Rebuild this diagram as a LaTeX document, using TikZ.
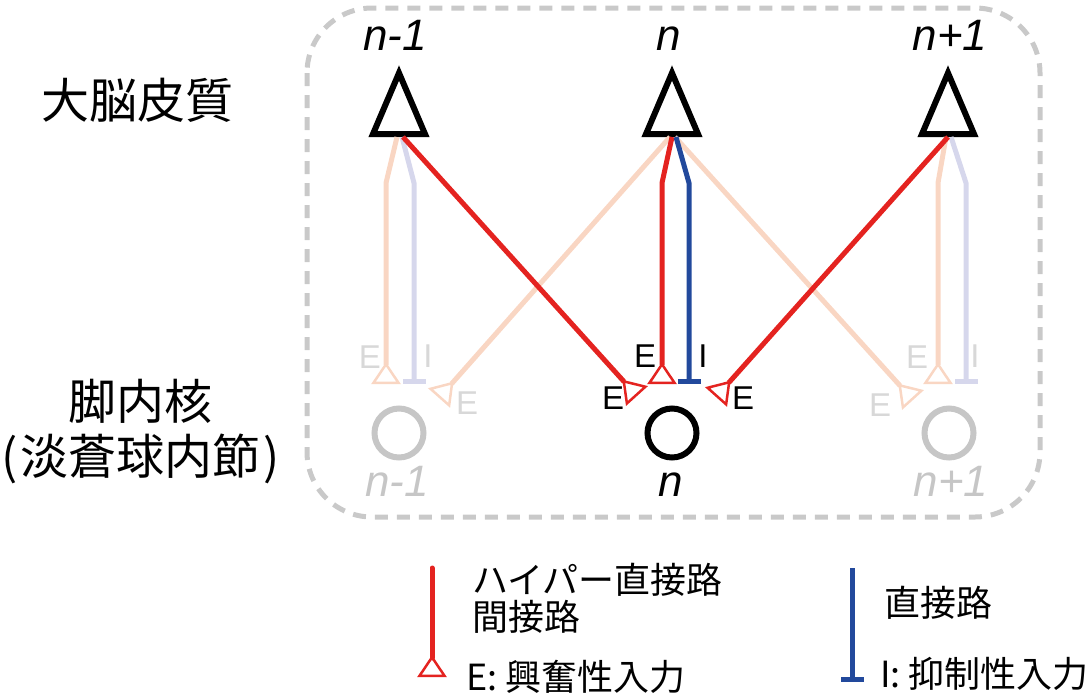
\documentclass[tikz,border=0pt]{standalone}
\usepackage{fontspec}
\setmainfont{Liberation Sans}
\newfontfamily\jpfont{Noto Sans CJK JP}
\usepackage{tikz}
\usetikzlibrary{shapes.geometric, arrows.meta, calc}
\definecolor{bg-red}{HTML}{E42320}
\definecolor{bg-blue}{HTML}{22499C}
\definecolor{bg-red-pale}{HTML}{F9D6C3}
\definecolor{bg-blue-pale}{HTML}{D6D7EC}
\definecolor{bg-gray}{HTML}{C6C6C6}
\definecolor{bg-label-pale}{HTML}{D8D8D8}
\definecolor{bg-frame}{HTML}{C9C9C9}

\begin{document}
\begin{tikzpicture}[x=1pt, y=-1pt,
		cortex/.style={
			isosceles triangle, shape border rotate=90,
			isosceles triangle stretches,
			minimum width=52pt, minimum height=61pt,
			inner sep=0pt, draw=black, line width=6pt,
			anchor=lower side
		},
		nucleus/.style={
			circle, minimum size=49pt, inner sep=0pt,
			draw=black, line width=6pt
		},
		numlabel/.style={
			font=\fontsize{44}{48}\selectfont\itshape,
			anchor=base, inner sep=0pt
		},
		region/.style={
			font=\jpfont\fontsize{48}{55}\selectfont, align=center
		},
		tiplabel/.style={
			font=\fontsize{33}{35}\selectfont, inner sep=0pt
		},
		excite/.style={
			draw=bg-red, line width=5pt,
			-{Triangle[open, reversed, length=22pt, width=29pt, line width=2.5pt]}
		},
		inhibit/.style={
			draw=bg-blue, line width=5pt,
			-{Bar[width=23pt, line width=5pt]}
		},
		legendtext/.style={
			font=\jpfont\fontsize{36}{40}\selectfont,
			anchor=west, inner sep=0pt
		}
		]
		
		\useasboundingbox (0,0) rectangle (1092,694);
		
		% 枠
		\draw[bg-frame, line width=5pt, dash pattern=on 13pt off 9pt,
			rounded corners=65pt] (307,8) rectangle (1040,517);
		
		% 大脳皮質
		\node[cortex] (ctxL) at (399,137) {};
		\node[cortex] (ctxM) at (672,137) {};
		\node[cortex] (ctxR) at (948,137) {};
		\node[numlabel] (numL) at (395,50) {n-1};
		\node[numlabel] (numM) at (669,50) {n};
		\node[numlabel] (numR) at (950,50) {n+1};
		\node[region] (cortexlabel) at (137,100) {大脳皮質};
		
		% 脚内核
		\node[nucleus, draw=bg-gray] (gpL) at (399,433) {};
		\node[nucleus] (gpM) at (672,433) {};
		\node[nucleus, draw=bg-gray] (gpR) at (949,433) {};
		\node[numlabel, text=bg-gray] (subL) at (397,496) {n-1};
		\node[numlabel] (subM) at (671,496) {n};
		\node[numlabel, text=bg-gray] (subR) at (951,496) {n+1};
		\node[region] (gplabel) at (141,432) {脚内核\\(\kern3pt淡蒼球内節\kern3pt)};
		
		% 終端
		\coordinate (knee) at (0,183);
		\coordinate (eLL) at (386,384);
		\coordinate (iLL) at (414,384);
		\coordinate (eML) at (439,398);
		\coordinate (eLM) at (637,396);
		\coordinate (eMM) at (662,384);
		\coordinate (iMM) at (689,384);
		\coordinate (eRM) at (716,397);
		\coordinate (eMR) at (913,400);
		\coordinate (eRR) at (938,384);
		\coordinate (iRR) at (966,384);
		
		% 薄い経路
		\draw[excite, draw=bg-red-pale] ($(ctxL.lower side)+(-2,0)$) -- (eLL |- knee) -- (eLL);
		\draw[inhibit, draw=bg-blue-pale] ($(ctxL.lower side)+(3,0)$) -- (iLL |- knee) -- (iLL);
		\draw[excite, draw=bg-red-pale] ($(ctxM.lower side)+(-2,0)$) -- (eML);
		\draw[excite, draw=bg-red-pale] ($(ctxM.lower side)+(3,0)$) -- (eMR);
		\draw[excite, draw=bg-red-pale] ($(ctxR.lower side)+(-2,0)$) -- (eRR |- knee) -- (eRR);
		\draw[inhibit, draw=bg-blue-pale] ($(ctxR.lower side)+(3,0)$) -- (iRR |- knee) -- (iRR);
		
		\node[tiplabel, text=bg-label-pale] (tLa) at (370,357) {E};
		\node[tiplabel, text=bg-label-pale] (tLb) at (428,356) {I};
		\node[tiplabel, text=bg-label-pale] (tLc) at (467,403) {E};
		\node[tiplabel, text=bg-label-pale] (tRa) at (917,357) {E};
		\node[tiplabel, text=bg-label-pale] (tRb) at (975,356) {I};
		\node[tiplabel, text=bg-label-pale] (tRc) at (880,405) {E};
		
		% 主な経路
		\draw[excite] ($(ctxL.lower side)+(4,0)$) -- (eLM);
		\draw[excite] ($(ctxM.lower side)+(0,0)$) -- (eMM |- knee) -- (eMM);
		\draw[inhibit] ($(ctxM.lower side)+(4,0)$) -- (iMM |- knee) -- (iMM);
		\draw[excite] ($(ctxR.lower side)+(0,0)$) -- (eRM);
		
		\node[tiplabel] (tMa) at (645,356) {E};
		\node[tiplabel] (tMb) at (613,398) {E};
		\node[tiplabel] (tMc) at (703,356) {I};
		\node[tiplabel] (tMd) at (743,398) {E};
		
		% 凡例
		\coordinate (legE) at (432,568);
		\coordinate (legEend) at (432,677);
		\coordinate (legI) at (852,568);
		\coordinate (legIend) at (852,682);
		\draw[excite, line cap=round] (legE) -- (legEend);
		\draw[inhibit] (legI) -- (legIend);
		\node[legendtext] (legA) at (472,580) {ハイパー直接路};
		\node[legendtext] (legB) at (472,617) {間接路};
		\node[legendtext] (legC) at (466,677) {E: 興奮性入力};
		\node[legendtext] (legD) at (884,603) {直接路};
		\node[legendtext] (legF) at (880,674) {I: 抑制性入力};
		
	\end{tikzpicture}
\end{document}
